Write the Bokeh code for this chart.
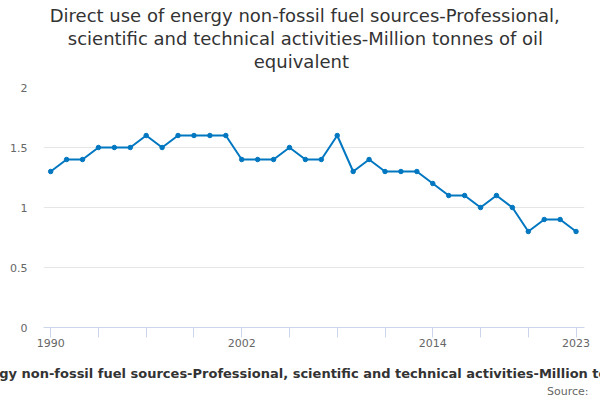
from bokeh.plotting import figure
from bokeh.models import Title, FixedTicker, Range1d, ColumnDataSource, LinearAxis
from bokeh.embed import file_html
from bokeh.resources import INLINE

years = list(range(1990, 2024))
values = [1.3, 1.4, 1.4, 1.5, 1.5, 1.5, 1.6, 1.5, 1.6, 1.6, 1.6, 1.6,
          1.4, 1.4, 1.4, 1.5, 1.4, 1.4, 1.6, 1.3, 1.4, 1.3, 1.3, 1.3,
          1.2, 1.1, 1.1, 1.0, 1.1, 1.0, 0.8, 0.9, 0.9, 0.8]
x_tick_positions = list(range(1990, 2024, 3))
x_tick_labels = {1990: "1990", 2002: "2002", 2014: "2014", 2023: "2023"}
y_ticks = [0, 0.5, 1, 1.5, 2]
y_tick_labels = {0: "0", 0.5: "0.5", 1: "1", 1.5: "1.5", 2: "2"}
title_lines = ["Direct use of energy non-fossil fuel sources-Professional,",
               "scientific and technical activities-Million tonnes of oil",
               "equivalent"]
series_name = ("Direct use of energy non-fossil fuel sources-Professional, "
               "scientific and technical activities-Million tonnes of oil equivalent")
source_text = "Source:"

FONT = "DejaVu Sans"
BLUE = "#0077c0"

src = ColumnDataSource(dict(x=years, y=values))

p = figure(width=600, height=400, output_backend="svg", toolbar_location=None,
           title=None,
           x_range=Range1d(years[0] - 0.45, years[-1] + 0.53),
           y_range=Range1d(0, 2),
           min_border_left=43, min_border_right=16,
           min_border_top=0, min_border_bottom=0)
p.outline_line_color = None
p.background_fill_color = "white"
p.border_fill_color = "white"

xa = p.xaxis[0]
ya = p.yaxis[0]


def spacer(size):
    mid = years[len(years) // 2]
    return LinearAxis(ticker=FixedTicker(ticks=[mid]), axis_line_color=None,
                      major_tick_line_color=None, minor_tick_line_color=None,
                      major_tick_out=size, major_tick_in=0, minor_tick_out=0,
                      major_label_overrides={mid: ""}, major_label_standoff=0,
                      major_label_text_font_size="0px")


# top: spacer (nearest frame), then title lines outward (each line centred like the original)
p.add_layout(spacer(14), "above")
title_valign = ["bottom", "top", "top"]
title_standoff = [4, 0, 0]
title_offset = [6.2, 24.3, 210.3]
for i in reversed(range(len(title_lines))):
    p.add_layout(Title(text=title_lines[i], align="left", offset=title_offset[i],
                       vertical_align=title_valign[i], standoff=title_standoff[i],
                       text_font=FONT, text_font_size="18px",
                       text_font_style="normal", text_color="#333333"), "above")

p.line("x", "y", source=src, line_color=BLUE, line_width=2)
p.scatter("x", "y", source=src, size=4.5, fill_color=BLUE, line_color=BLUE)

# x axis
xa.ticker = FixedTicker(ticks=x_tick_positions)
xa.major_label_overrides = {t: x_tick_labels.get(t, "") for t in x_tick_positions}
xa.axis_line_color = "#ccd6eb"
xa.major_tick_line_color = "#ccd6eb"
xa.major_tick_in = 0
xa.major_tick_out = 10
xa.minor_tick_line_color = None
xa.minor_tick_out = 0
xa.major_label_text_font = FONT
xa.major_label_text_font_size = "11px"
xa.major_label_text_color = "#666666"
xa.major_label_standoff = 1

# y axis
ya.ticker = FixedTicker(ticks=y_ticks)
ya.major_label_overrides = y_tick_labels
ya.axis_line_color = None
ya.major_tick_line_color = None
ya.minor_tick_line_color = None
ya.major_tick_out = 0
ya.minor_tick_out = 0
ya.major_label_text_font = FONT
ya.major_label_text_font_size = "11px"
ya.major_label_text_color = "#666666"
ya.major_label_standoff = 16

p.xgrid.grid_line_color = None
p.ygrid.grid_line_color = "#e6e6e6"
p.ygrid.ticker = FixedTicker(ticks=y_ticks)

# bottom: x axis, spacer, series name, source
p.add_layout(spacer(15), "below")
p.add_layout(Title(text=series_name, align="left", offset=-176,
                   vertical_align="middle", standoff=1,
                   text_font=FONT, text_font_size="13px", text_font_style="bold",
                   text_color="#333333"), "below")
p.add_layout(Title(text=source_text, align="right", offset=-4,
                   vertical_align="middle", standoff=3,
                   text_font=FONT, text_font_size="11px", text_font_style="normal",
                   text_color="#666666"), "below")

open("out.html", "w").write(file_html(p, INLINE))
